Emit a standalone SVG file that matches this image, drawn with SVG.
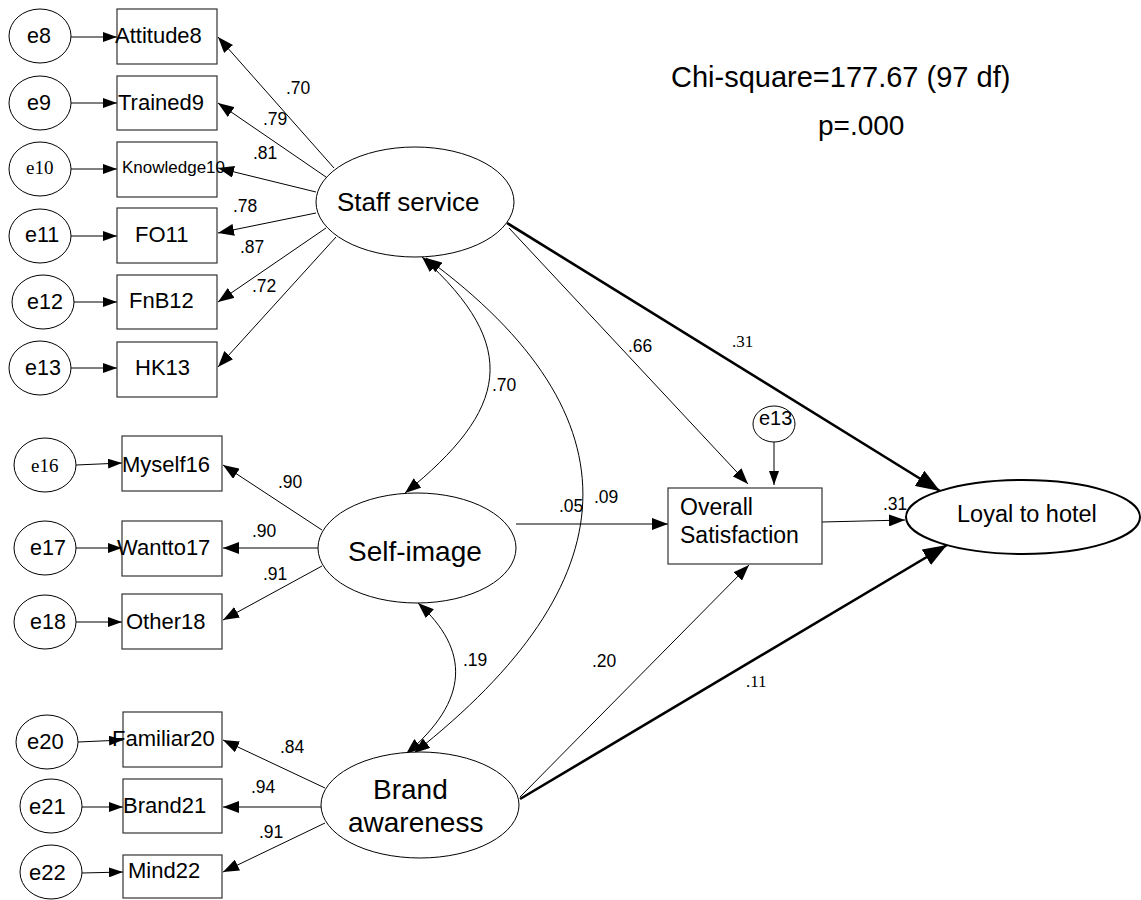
<svg xmlns="http://www.w3.org/2000/svg" width="1141" height="900" viewBox="0 0 1141 900">
<defs>
<marker id="ah" markerUnits="userSpaceOnUse" markerWidth="16" markerHeight="12" refX="16" refY="6" orient="auto-start-reverse" viewBox="0 0 16 12"><path d="M0,0 L16,6 L0,12 z" fill="#000"/></marker>
<marker id="ahs" markerUnits="userSpaceOnUse" markerWidth="14" markerHeight="10" refX="14" refY="5" orient="auto" viewBox="0 0 14 10"><path d="M0,0 L14,5 L0,10 z" fill="#000"/></marker>
<marker id="ahb" markerUnits="userSpaceOnUse" markerWidth="24" markerHeight="18" refX="24" refY="9" orient="auto" viewBox="0 0 24 18"><path d="M0,0 L24,9 L0,18 z" fill="#000"/></marker>
</defs>
<style>
.e{fill:#fff;stroke:#000;stroke-width:1}
.b{fill:#fff;stroke:#333;stroke-width:1.2}
.t{font-family:"Liberation Sans",Arial,sans-serif;fill:#000}
.s{font-family:"Liberation Serif","Times New Roman",serif;fill:#000}
.c{stroke:#000;stroke-width:1;fill:none}
.k{stroke:#000;stroke-width:2.6;fill:none}
.n{font-size:21.5px}
.v{font-size:17.5px}
</style>
<rect width="1141" height="900" fill="#fff"/>
<g id="connectors">
<line class="c" x1="71" y1="37" x2="117" y2="37" marker-end="url(#ahs)"/>
<line class="c" x1="71" y1="103" x2="117" y2="103" marker-end="url(#ahs)"/>
<line class="c" x1="71" y1="169" x2="117" y2="169" marker-end="url(#ahs)"/>
<line class="c" x1="71" y1="236" x2="117" y2="236" marker-end="url(#ahs)"/>
<line class="c" x1="74" y1="302" x2="117" y2="302" marker-end="url(#ahs)"/>
<line class="c" x1="71" y1="368" x2="117" y2="368" marker-end="url(#ahs)"/>
<line class="c" x1="76" y1="465" x2="122" y2="463" marker-end="url(#ahs)"/>
<line class="c" x1="76" y1="548" x2="122" y2="548" marker-end="url(#ahs)"/>
<line class="c" x1="76" y1="622" x2="122" y2="622" marker-end="url(#ahs)"/>
<line class="c" x1="78" y1="742" x2="123" y2="740" marker-end="url(#ahs)"/>
<line class="c" x1="82" y1="807" x2="123" y2="807" marker-end="url(#ahs)"/>
<line class="c" x1="82" y1="873" x2="123" y2="872" marker-end="url(#ahs)"/>
<line class="c" x1="334" y1="168" x2="218" y2="37" marker-end="url(#ah)"/>
<line class="c" x1="326" y1="177" x2="218" y2="103" marker-end="url(#ah)"/>
<line class="c" x1="316" y1="192" x2="218" y2="168" marker-end="url(#ah)"/>
<line class="c" x1="316" y1="213" x2="218" y2="233" marker-end="url(#ah)"/>
<line class="c" x1="326" y1="228" x2="218" y2="302" marker-end="url(#ah)"/>
<line class="c" x1="336" y1="237" x2="218" y2="367" marker-end="url(#ah)"/>
<line class="c" x1="322" y1="530" x2="223" y2="465" marker-end="url(#ah)"/>
<line class="c" x1="318" y1="548" x2="223" y2="548" marker-end="url(#ah)"/>
<line class="c" x1="322" y1="566" x2="223" y2="620" marker-end="url(#ah)"/>
<line class="c" x1="325" y1="788" x2="223" y2="740" marker-end="url(#ah)"/>
<line class="c" x1="321" y1="807" x2="223" y2="807" marker-end="url(#ah)"/>
<line class="c" x1="325" y1="823" x2="223" y2="872" marker-end="url(#ah)"/>
<path class="c" d="M422,257 C522,347 508,410 405,493" marker-start="url(#ah)" marker-end="url(#ah)"/>
<path class="c" d="M418,603 C470,650 470,700 406,754" marker-start="url(#ah)" marker-end="url(#ah)"/>
<path class="c" d="M426,258 C644,418 630,583 414,753" marker-start="url(#ah)" marker-end="url(#ah)"/>
<line class="c" x1="509" y1="228" x2="748" y2="484" marker-end="url(#ah)"/>
<line class="k" x1="507" y1="223" x2="940" y2="491" marker-end="url(#ahb)"/>
<line class="c" x1="516" y1="524" x2="668" y2="524" marker-end="url(#ah)"/>
<line class="c" x1="520" y1="797" x2="749" y2="565" marker-end="url(#ah)"/>
<line class="k" x1="520" y1="799" x2="947" y2="545" marker-end="url(#ahb)"/>
<line class="c" x1="822" y1="522" x2="905" y2="520" marker-end="url(#ah)"/>
<line class="c" x1="774" y1="442" x2="774" y2="485" marker-end="url(#ahs)"/>
</g>
<g id="e8"><ellipse class="e" cx="40" cy="36" rx="31" ry="27"/><text class="t n" x="27" y="43">e8</text></g>
<g id="e9"><ellipse class="e" cx="40" cy="103" rx="31" ry="27"/><text class="t n" x="27" y="110">e9</text></g>
<g id="e10"><ellipse class="e" cx="40" cy="169" rx="31" ry="27"/><text class="s" font-size="19" x="26" y="174">e10</text></g>
<g id="e11"><ellipse class="e" cx="40" cy="236" rx="31" ry="27"/><text class="t n" x="25" y="242">e11</text></g>
<g id="e12"><ellipse class="e" cx="43" cy="302" rx="31" ry="27"/><text class="t n" x="27" y="309">e12</text></g>
<g id="e13"><ellipse class="e" cx="40" cy="368" rx="31" ry="27"/><text class="t n" x="25" y="375">e13</text></g>
<g id="e16"><ellipse class="e" cx="45" cy="465" rx="31" ry="27"/><text class="s" font-size="19" x="31" y="472">e16</text></g>
<g id="e17"><ellipse class="e" cx="45" cy="548" rx="31" ry="27"/><text class="t n" x="30" y="555">e17</text></g>
<g id="e18"><ellipse class="e" cx="45" cy="622" rx="31" ry="27"/><text class="t n" x="30" y="629">e18</text></g>
<g id="e20"><ellipse class="e" cx="47" cy="742" rx="31" ry="27"/><text class="t" font-size="22" x="27" y="749">e20</text></g>
<g id="e21"><ellipse class="e" cx="51" cy="806" rx="31" ry="27"/><text class="t" font-size="22" x="29" y="814">e21</text></g>
<g id="e22"><ellipse class="e" cx="51" cy="872" rx="31" ry="27"/><text class="t" font-size="22" x="29" y="880">e22</text></g>
<g id="Attitude8"><rect class="b" x="117" y="9" width="100" height="55"/><text class="t" font-size="22" x="115" y="43">Attitude8</text></g>
<g id="Trained9"><rect class="b" x="117" y="76" width="100" height="54"/><text class="t" font-size="22" x="118" y="110">Trained9</text></g>
<g id="Knowledge10"><rect class="b" x="117" y="142" width="100" height="55"/><text class="t" font-size="17" x="122" y="173">Knowledge10</text></g>
<g id="FO11"><rect class="b" x="117" y="208" width="100" height="55"/><text class="t" font-size="22" x="135" y="242">FO11</text></g>
<g id="FnB12"><rect class="b" x="117" y="275" width="100" height="54"/><text class="t" font-size="22" x="129" y="308">FnB12</text></g>
<g id="HK13"><rect class="b" x="117" y="342" width="100" height="55"/><text class="t" font-size="22" x="135" y="375">HK13</text></g>
<g id="Myself16"><rect class="b" x="122" y="436" width="100" height="55"/><text class="t" font-size="22" x="122" y="472">Myself16</text></g>
<g id="Wantto17"><rect class="b" x="122" y="521" width="100" height="55"/><text class="t" font-size="22" x="117" y="555">Wantto17</text></g>
<g id="Other18"><rect class="b" x="122" y="594" width="100" height="55"/><text class="t" font-size="22" x="126" y="629">Other18</text></g>
<g id="Familiar20"><rect class="b" x="123" y="712" width="99" height="55"/><text class="t" font-size="22" x="112" y="746">Familiar20</text></g>
<g id="Brand21"><rect class="b" x="123" y="779" width="99" height="54"/><text class="t" font-size="22" x="123" y="813">Brand21</text></g>
<g id="Mind22"><rect class="b" x="123" y="855" width="99" height="43"/><text class="t" font-size="22" x="128" y="878">Mind22</text></g>
<g id="StaffService"><ellipse class="e" cx="415" cy="202" rx="99" ry="55"/><text class="t" font-size="26" x="337" y="211">Staff service</text></g>
<g id="SelfImage"><ellipse class="e" cx="417" cy="548" rx="99" ry="55"/><text class="t" font-size="28" x="348" y="561">Self-image</text></g>
<g id="BrandAwareness"><ellipse class="e" cx="420" cy="805" rx="99" ry="53"/><text class="t" font-size="28" x="373" y="799">Brand</text><text class="t" font-size="28" x="348" y="832">awareness</text></g>
<g id="OverallSatisfaction"><rect class="b" x="668" y="488" width="154" height="76"/><text class="t" font-size="23" x="680" y="515">Overall</text><text class="t" font-size="23" x="680" y="543">Satisfaction</text></g>
<g id="e13b"><ellipse class="e" cx="774" cy="424" rx="21" ry="18"/><text class="t" font-size="20" x="759" y="425">e13</text></g>
<g id="LoyalToHotel"><ellipse cx="1023" cy="517" rx="117" ry="37" fill="#fff" stroke="#000" stroke-width="2"/><text class="t" font-size="23.5" x="957" y="522">Loyal to hotel</text></g>
<g id="labels">
<text class="t v" x="286" y="94">.70</text>
<text class="t v" x="263" y="125">.79</text>
<text class="t v" x="253" y="159">.81</text>
<text class="t v" x="233" y="212">.78</text>
<text class="t v" x="240" y="253">.87</text>
<text class="t v" x="252" y="292">.72</text>
<text class="t v" x="278" y="488">.90</text>
<text class="t v" x="252" y="537">.90</text>
<text class="t v" x="263" y="580">.91</text>
<text class="t v" x="280" y="753">.84</text>
<text class="t v" x="251" y="793">.94</text>
<text class="t v" x="259" y="838">.91</text>
<text class="t v" x="492" y="391">.70</text>
<text class="t v" x="463" y="666">.19</text>
<text class="t v" x="559" y="512">.05</text>
<text class="t v" x="594" y="503">.09</text>
<text class="t v" x="628" y="352">.66</text>
<text class="s" font-size="17" x="732" y="347">.31</text>
<text class="t v" x="592" y="667">.20</text>
<text class="s" font-size="17" x="746" y="687">.11</text>
<text class="t v" x="883" y="510">.31</text>
<text class="t" font-size="29" x="671" y="87">Chi-square=177.67 (97 df)</text>
<text class="t" font-size="28" x="818" y="135">p=.000</text>
</g>
</svg>
